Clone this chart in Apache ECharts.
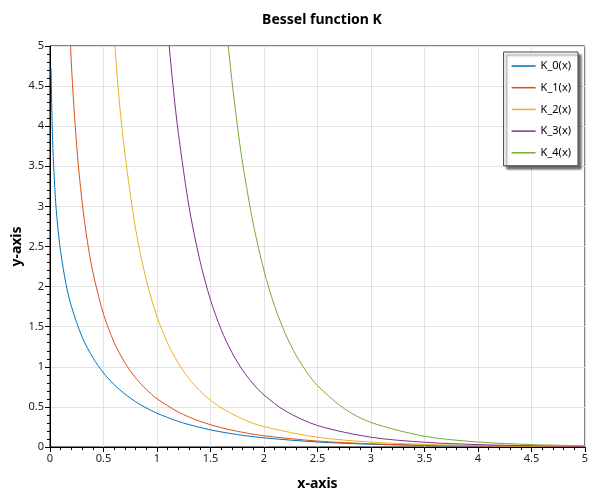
<!DOCTYPE html>
<html lang="en">
<head>
    <meta charset="UTF-8">
    <title>Bessel function K</title>
    <style>
        * { margin: 0; }
        body { background: #fff; }
        #main { width: 600px; height: 500px; }
    </style>
    <script src="https://cdn.jsdelivr.net/npm/echarts@6/dist/echarts.min.js"></script>
</head>
<body>
<div id="main"></div>
<script>
    var names = ['K_0(x)', 'K_1(x)', 'K_2(x)', 'K_3(x)', 'K_4(x)'];
    var colors = ['#0072BD', '#D95319', '#EDB120', '#7E2F8E', '#77AC30'];

    // values
    var x0 = [0.01, 0.02, 0.03, 0.05, 0.07, 0.1, 0.15, 0.2, 0.3, 0.4, 0.5, 0.6, 0.7, 0.8, 0.9, 1.0, 1.2, 1.4, 1.6, 1.8, 2.0, 2.5, 3.0, 3.5, 4.0, 4.5, 5.0];
    var k0 = [4.721, 4.029, 3.623, 3.114, 2.780, 2.427, 2.030, 1.753, 1.372, 1.115, 0.924, 0.778, 0.661, 0.565, 0.487, 0.421, 0.319, 0.244, 0.188, 0.146, 0.114, 0.0623, 0.0347, 0.0196, 0.0112, 0.0064, 0.0037];

    var x1 = [0.15, 0.2, 0.25, 0.3, 0.35, 0.4, 0.5, 0.6, 0.7, 0.8, 0.9, 1.0, 1.2, 1.4, 1.6, 1.8, 2.0, 2.5, 3.0, 3.5, 4.0, 4.5, 5.0];
    var k1 = [6.477, 4.776, 3.747, 3.056, 2.559, 2.184, 1.656, 1.303, 1.050, 0.862, 0.717, 0.602, 0.435, 0.321, 0.241, 0.183, 0.140, 0.0739, 0.0402, 0.0222, 0.0125, 0.0071, 0.0040];

    var x2 = [0.55, 0.6, 0.65, 0.7, 0.8, 0.9, 1.0, 1.1, 1.2, 1.3, 1.4, 1.5, 1.6, 1.8, 2.0, 2.5, 3.0, 3.5, 4.0, 4.5, 5.0];
    var k2 = [6.15, 5.12, 4.28, 3.66, 2.72, 2.08, 1.625, 1.293, 1.043, 0.851, 0.702, 0.584, 0.489, 0.349, 0.254, 0.1215, 0.0615, 0.0323, 0.0174, 0.0096, 0.0053];

    var x3 = [1.05, 1.1, 1.15, 1.2, 1.3, 1.4, 1.5, 1.6, 1.7, 1.8, 1.9, 2.0, 2.2, 2.5, 3.0, 3.5, 4.0, 4.5, 5.0];
    var k3 = [6.08, 5.21, 4.50, 3.91, 2.99, 2.33, 1.834, 1.463, 1.179, 0.958, 0.785, 0.648, 0.449, 0.268, 0.122, 0.0591, 0.0299, 0.0156, 0.0083];

    var x4 = [1.6, 1.65, 1.7, 1.75, 1.8, 1.9, 2.0, 2.1, 2.2, 2.3, 2.4, 2.5, 2.75, 3.0, 3.5, 4.0, 4.5, 5.0];
    var k4 = [5.98, 5.22, 4.57, 4.02, 3.54, 2.78, 2.20, 1.753, 1.411, 1.143, 0.933, 0.765, 0.479, 0.306, 0.134, 0.0623, 0.0304, 0.0153];

    var xs = [x0, x1, x2, x3, x4];
    var ys = [k0, k1, k2, k3, k4];

    var fontFam = '"Noto Sans", "Open Sans", sans-serif';

    function pairs(x, y) {
        var out = [];
        for (var i = 0; i < x.length; i++) out.push([x[i], y[i]]);
        return out;
    }

    var series = [];
    for (var s = 0; s < names.length; s++) {
        series.push({
            name: names[s],
            type: 'line',
            data: pairs(xs[s], ys[s]),
            symbol: 'none',
            smooth: 0.3,
            clip: true,
            lineStyle: {width: 1, color: colors[s]},
            itemStyle: {color: colors[s]},
            animation: false
        });
    }

    function axisCommon(name, gap, rotate) {
        return {
            type: 'value',
            min: 0,
            max: 5,
            interval: 0.5,
            name: name,
            nameLocation: 'middle',
            nameGap: gap,
            nameRotate: rotate,
            nameMoveOverlap: false,
            nameTextStyle: {fontFamily: fontFam, fontSize: 14, fontWeight: 'bold', color: '#000'},
            axisLine: {show: true, onZero: false, lineStyle: {color: '#000', width: 1}},
            axisTick: {show: true, inside: false, length: 5, lineStyle: {color: '#000'}},
            minorTick: {show: true, splitNumber: 5, length: 3, lineStyle: {color: '#000'}},
            axisLabel: {fontFamily: fontFam, fontSize: 11, color: '#222', margin: 6},
            splitLine: {show: true, lineStyle: {color: '#e2e2e2', width: 1}}
        };
    }

    var myChart = echarts.init(document.getElementById('main'));
    var option = {
        backgroundColor: '#fff',
        color: colors,
        title: {
            text: 'Bessel function K',
            left: 317,
            textAlign: 'center',
            top: 8,
            textStyle: {fontFamily: fontFam, fontSize: 14, fontWeight: 'bold', color: '#000'}
        },
        grid: {
            left: 50, right: 15, top: 46, bottom: 53,
            outerBoundsMode: 'none',
            show: true, borderColor: '#000', borderWidth: 1
        },
        legend: {
            right: 22,
            top: 52,
            orient: 'vertical',
            icon: 'rect',
            itemWidth: 24,
            itemHeight: 1.5,
            itemGap: 5.7,
            padding: [6, 7, 5, 8],
            backgroundColor: '#fff',
            borderColor: '#444',
            borderWidth: 1,
            borderRadius: 0,
            shadowColor: 'rgba(0,0,0,0.55)',
            shadowBlur: 2,
            shadowOffsetX: 3,
            shadowOffsetY: 3,
            textStyle: {fontFamily: fontFam, fontSize: 11, color: '#000', lineHeight: 16},
            data: names
        },
        xAxis: axisCommon('x-axis', 30, 0),
        yAxis: axisCommon('y-axis', 26, 90),
        series: series
    };
    myChart.setOption(option);
</script>
</body>
</html>
